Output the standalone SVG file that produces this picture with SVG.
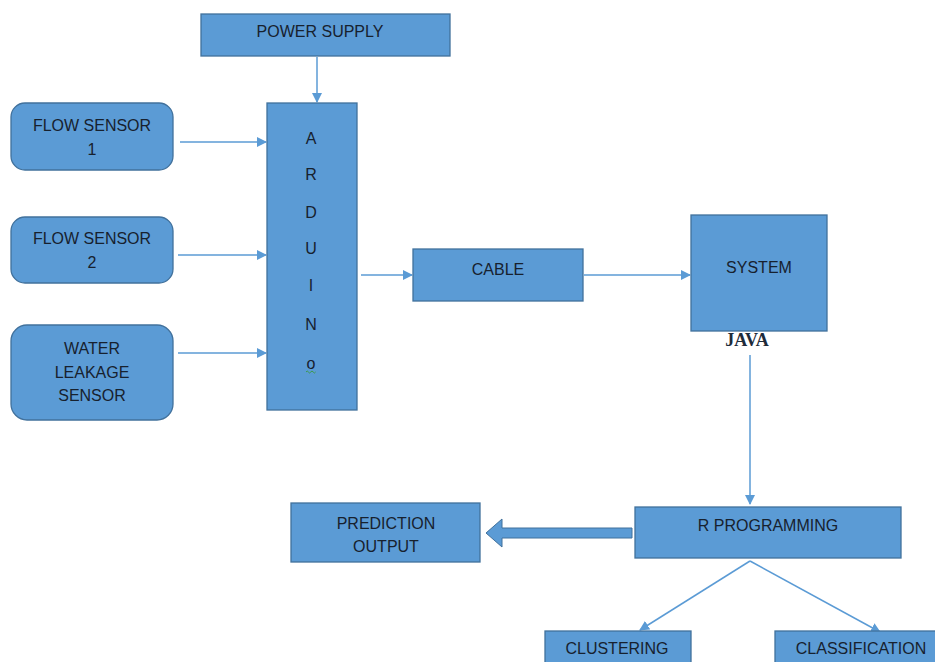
<svg xmlns="http://www.w3.org/2000/svg" width="935" height="662" viewBox="0 0 935 662">
<style>
.box{fill:#5B9BD5;stroke:#41719C;stroke-width:1.3}
.t{font-family:"Liberation Sans",Arial,sans-serif;font-size:16px;fill:#17212E;text-anchor:middle}
.c{stroke:#5B9BD5;stroke-width:1.5;fill:none}
</style>
<defs>
<marker id="ah" markerWidth="10" markerHeight="10" refX="9" refY="5" orient="auto" markerUnits="userSpaceOnUse">
<path d="M0,0 L10,5 L0,10 Z" fill="#5B9BD5"/>
</marker>
</defs>
<rect width="935" height="662" fill="#fff"/>
<g id="connectors">
<line class="c" x1="317" y1="57" x2="317" y2="102" marker-end="url(#ah)"/>
<line class="c" x1="180" y1="142" x2="266" y2="142" marker-end="url(#ah)"/>
<line class="c" x1="178" y1="255" x2="266" y2="255" marker-end="url(#ah)"/>
<line class="c" x1="178" y1="353" x2="266" y2="353" marker-end="url(#ah)"/>
<line class="c" x1="361" y1="275" x2="412" y2="275" marker-end="url(#ah)"/>
<line class="c" x1="584" y1="275" x2="690" y2="275" marker-end="url(#ah)"/>
<line class="c" x1="750" y1="355" x2="750" y2="504" marker-end="url(#ah)"/>
<line class="c" x1="750" y1="561" x2="640" y2="630" marker-end="url(#ah)"/>
<line class="c" x1="750" y1="561" x2="880" y2="632" marker-end="url(#ah)"/>
<polygon points="632,528 502,528 502,519 486,533 502,547 502,538 632,538" fill="#5B9BD5" stroke="#41719C" stroke-width="1"/>
</g>
<g id="power-supply">
<rect class="box" x="201" y="14" width="249" height="42"/>
<text class="t" x="320" y="37">POWER SUPPLY</text>
</g>
<g id="flow-sensor-1">
<rect class="box" x="11" y="103" width="162" height="67" rx="14"/>
<text class="t" x="92" y="131">FLOW SENSOR</text>
<text class="t" x="92" y="155">1</text>
</g>
<g id="flow-sensor-2">
<rect class="box" x="11" y="217" width="162" height="66" rx="14"/>
<text class="t" x="92" y="244">FLOW SENSOR</text>
<text class="t" x="92" y="268">2</text>
</g>
<g id="water-leakage-sensor">
<rect class="box" x="11" y="325" width="162" height="95" rx="16"/>
<text class="t" x="92" y="354">WATER</text>
<text class="t" x="92" y="378">LEAKAGE</text>
<text class="t" x="92" y="401">SENSOR</text>
</g>
<g id="arduino">
<rect class="box" x="267" y="103" width="90" height="307"/>
<text class="t" x="311" y="144">A</text>
<text class="t" x="311" y="180">R</text>
<text class="t" x="311" y="218">D</text>
<text class="t" x="311" y="254">U</text>
<text class="t" x="311" y="291">I</text>
<text class="t" x="311" y="330">N</text>
<text class="t" x="311" y="369">o</text>
<path d="M306,372 q1.2,-2 2.4,0 t2.4,0 t2.4,0 t2.4,0" fill="none" stroke="#3a9a3a" stroke-width="0.9"/>
</g>
<g id="cable">
<rect class="box" x="413" y="249" width="170" height="52"/>
<text class="t" x="498" y="275">CABLE</text>
</g>
<g id="system">
<rect class="box" x="691" y="215" width="136" height="116"/>
<text class="t" x="759" y="273">SYSTEM</text>
<text x="747" y="346" font-family="'Liberation Serif','Times New Roman',serif" font-size="18" font-weight="bold" fill="#1E2B3A" text-anchor="middle">JAVA</text>
</g>
<g id="r-programming">
<rect class="box" x="635" y="507" width="266" height="51"/>
<text class="t" x="768" y="531">R PROGRAMMING</text>
</g>
<g id="prediction-output">
<rect class="box" x="291" y="503" width="189" height="59"/>
<text class="t" x="386" y="529">PREDICTION</text>
<text class="t" x="386" y="552">OUTPUT</text>
</g>
<g id="clustering">
<rect class="box" x="545" y="631" width="146" height="40"/>
<text class="t" x="617" y="654">CLUSTERING</text>
</g>
<g id="classification">
<rect class="box" x="775" y="631" width="170" height="40"/>
<text class="t" x="861" y="654">CLASSIFICATION</text>
</g>
</svg>
